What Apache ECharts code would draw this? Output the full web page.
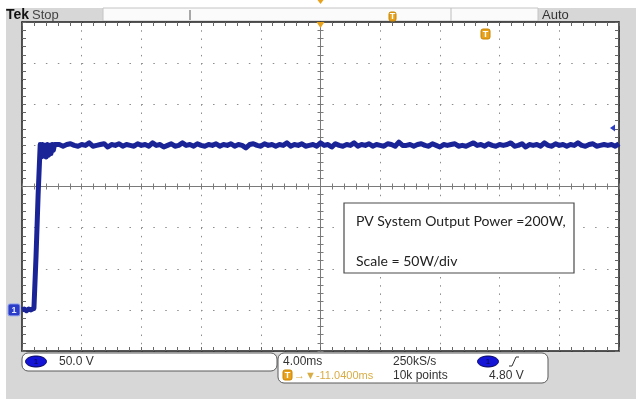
<!DOCTYPE html>
<html>
<head>
<meta charset="utf-8">
<script src="https://cdn.jsdelivr.net/npm/echarts@6/dist/echarts.min.js"></script>
<style>
  html, body { margin: 0; padding: 0; background: #fff; }
  #chart { width: 636px; height: 399px; }
</style>
</head>
<body>
<div id="chart"></div>
<script>
// Screen: 10 horizontal divisions at 4.00 ms/div, 8 vertical divisions at 50 W/div
const timeMin = 0, timeMax = 40, timePerDiv = 4;
const wattMin = -50, wattMax = 350, wattPerDiv = 50;

// Turn-on edge of the PV output power (time in ms, power in W)
const riseTimes = [0, 0.15, 0.3, 0.45, 0.6, 0.72, 0.8, 0.94, 1.08, 1.22, 1.3, 1.38, 1.46, 1.54, 1.62, 1.7, 1.78, 1.86, 1.94, 2.02, 2.1, 2.18];
const riseWatts = [0, 1, -1, 1, 0, 1, 2, 65, 140, 201, 186, 201, 187, 200, 186, 201, 188, 200, 190, 201, 194, 201];

// Steady-state power, sampled every 0.25 ms from 2.25 ms
const plateauStart = 2.25, plateauStep = 0.25;
const plateauWatts = [
  200,201,199,201,202,200,199,201,200,203,199,200,201,202,198,201,200,202,199,201,
  200,199,202,200,201,199,203,200,201,198,200,202,199,200,203,200,201,199,202,200,
  199,201,200,202,199,201,200,202,199,201,200,197,201,202,200,199,202,200,201,199,
  201,200,203,199,201,200,202,199,200,201,199,203,200,201,198,202,200,199,201,200,
  203,199,201,200,202,199,201,200,199,202,201,199,204,200,200,201,199,201,202,200,
  199,202,200,198,201,200,201,202,199,200,199,201,203,200,201,199,202,200,199,201,
  200,201,203,199,200,202,198,201,200,201,199,203,200,199,202,200,201,199,201,200,
  203,200,199,201,202,199,200,201,200,201,199,202
];

// Channel 1 ground reference and trigger level
const groundWatts = 0;
const triggerLevelWatts = 221;

const trace = riseTimes.map((t, i) => [t, riseWatts[i]])
  .concat(plateauWatts.map((w, i) => [plateauStart + i * plateauStep, w]));

const TRACE = '#1a2496';
const ORANGE = '#e9a21c';
const UI_FONT = '"Liberation Sans", Arial, sans-serif';

const chart = echarts.init(document.getElementById('chart'), null, { renderer: 'canvas' });

const plotRect = { left: 22, top: 22, width: 597, height: 329 };
const gridBase = Object.assign({ show: false, containLabel: false, outerBoundsMode: 'none' }, plotRect);

function edgeAxis(extra) {
  return Object.assign({
    type: 'value',
    axisLine: { show: true, onZero: false, lineStyle: { color: '#1e1e1e', width: 1.5 } },
    axisTick: { show: true, inside: true, length: 4, lineStyle: { color: '#666', width: 1 } },
    minorTick: { show: true, splitNumber: 5, length: 4, lineStyle: { color: '#666', width: 1 } },
    axisLabel: { show: false },
    splitLine: { show: false }
  }, extra);
}

function centerAxis(extra, inside) {
  return Object.assign({
    type: 'value',
    interval: 1,
    axisLine: { show: true, onZero: true, lineStyle: { color: '#7a7a7a', width: 1 } },
    axisTick: { show: true, inside: inside, length: 3, lineStyle: { color: '#7a7a7a', width: 1 } },
    minorTick: { show: true, splitNumber: 5, length: 3, lineStyle: { color: '#7a7a7a', width: 1 } },
    axisLabel: { show: false },
    splitLine: { show: false }
  }, extra);
}

chart.setOption({
  backgroundColor: '#ffffff',
  animation: false,
  grid: [gridBase, Object.assign({}, gridBase), Object.assign({}, gridBase)],
  xAxis: [
    edgeAxis({
      gridIndex: 0, position: 'bottom', min: timeMin, max: timeMax, interval: timePerDiv,
      splitLine: { show: true, lineStyle: { color: '#8c8c8c', width: 1, type: [1.5, 6.725] } }
    }),
    edgeAxis({ gridIndex: 0, position: 'top', min: timeMin, max: timeMax, interval: timePerDiv }),
    centerAxis({ gridIndex: 1, min: -5, max: 5 }, true),
    centerAxis({ gridIndex: 2, min: -5, max: 5 }, false)
  ],
  yAxis: [
    edgeAxis({
      gridIndex: 0, position: 'left', min: wattMin, max: wattMax, interval: wattPerDiv,
      splitLine: { show: true, lineStyle: { color: '#8c8c8c', width: 1, type: [1.5, 10.44] } }
    }),
    edgeAxis({ gridIndex: 0, position: 'right', min: wattMin, max: wattMax, interval: wattPerDiv }),
    centerAxis({ gridIndex: 1, min: -4, max: 4 }, true),
    centerAxis({ gridIndex: 2, min: -4, max: 4 }, false)
  ],
  series: [{
    name: 'CH1',
    type: 'line',
    xAxisIndex: 0,
    yAxisIndex: 0,
    data: trace,
    showSymbol: false,
    z: 5,
    lineStyle: { color: TRACE, width: 5, join: 'round', cap: 'butt' }
  }]
});

// Oscilloscope bezel, readouts and markers
const gnd = chart.convertToPixel({ xAxisIndex: 0, yAxisIndex: 0 }, [timeMin, groundWatts]);
const trig = chart.convertToPixel({ xAxisIndex: 0, yAxisIndex: 0 }, [timeMax, triggerLevelWatts]);
const centerX = plotRect.left + plotRect.width / 2;

function txt(x, y, s, opt) {
  return {
    type: 'text', x: x, y: y, z: 60,
    style: Object.assign({ text: s, fill: '#333', font: '12px ' + UI_FONT, verticalAlign: 'middle' }, opt || {})
  };
}

function badge(x, y, w, h, label, fill, stroke, color) {
  return {
    type: 'group', x: x, y: y, z: 60,
    children: [
      { type: 'rect', shape: { x: 0, y: 0, width: w, height: h, r: 2 }, style: { fill: fill, stroke: stroke, lineWidth: 1 }, z: 60 },
      { type: 'text', x: w / 2, y: h / 2 + 0.5, z: 61,
        style: { text: label, fill: color, font: 'bold 9px ' + UI_FONT, align: 'center', verticalAlign: 'middle' } }
    ]
  };
}

function chanEllipse(cx, cy) {
  return {
    type: 'group', x: cx, y: cy, z: 60,
    children: [
      { type: 'ellipse', shape: { cx: 0, cy: 0, rx: 10.5, ry: 5.5 }, style: { fill: '#1414d6', stroke: '#06065a', lineWidth: 1 }, z: 60 },
      { type: 'text', x: 0, y: 0.5, z: 61, style: { text: '1', fill: '#0a0a40', font: '8px ' + UI_FONT, align: 'center', verticalAlign: 'middle' } }
    ]
  };
}

chart.setOption({
  graphic: [
    // bezel
    { type: 'rect', z: -20, shape: { x: 6, y: 8, width: 630, height: 391 }, style: { fill: '#d7d7d7' } },
    { type: 'rect', z: -19, shape: { x: plotRect.left, y: plotRect.top, width: plotRect.width, height: plotRect.height }, style: { fill: '#ffffff' } },
    // top status bar
    { type: 'rect', z: -18, shape: { x: 103, y: 8, width: 435, height: 13 }, style: { fill: '#fbfbfb', stroke: '#c4c4c4', lineWidth: 1 } },
    { type: 'line', z: 50, shape: { x1: 190, y1: 10, x2: 190, y2: 20 }, style: { stroke: '#555', lineWidth: 1 } },
    { type: 'line', z: 50, shape: { x1: 451, y1: 8, x2: 451, y2: 21 }, style: { stroke: '#bdbdbd', lineWidth: 1 } },
    txt(6, 15, 'Tek', { fill: '#111', font: 'bold 14px ' + UI_FONT }),
    txt(32, 15, 'Stop', { fill: '#444', font: '13px ' + UI_FONT }),
    txt(542, 15, 'Auto', { fill: '#333', font: '13px ' + UI_FONT }),
    badge(389, 12, 7, 9, 'T', ORANGE, '#c88400', '#fff'),
    { type: 'polygon', z: 60, shape: { points: [[centerX - 3, 0], [centerX + 3, 0], [centerX, 4]] }, style: { fill: ORANGE } },
    { type: 'polygon', z: 60, shape: { points: [[centerX - 4, 22], [centerX + 4, 22], [centerX, 28]] }, style: { fill: ORANGE } },
    badge(481, 29, 9, 10, 'T', ORANGE, '#c88400', '#fff'),
    // channel 1 ground marker and trigger level arrow
    badge(gnd[0] - 14, gnd[1] - 6, 12, 12, '1', '#2a3cc8', '#9aa8f0', '#e8ecff'),
    { type: 'polygon', z: 60, shape: { points: [[trig[0] - 9, trig[1]], [trig[0] - 4, trig[1] - 3.5], [trig[0] - 4, trig[1] + 3.5]] }, style: { fill: '#2a3cc8' } },
    // annotation box
    { type: 'rect', z: 40, shape: { x: 344, y: 203, width: 230, height: 70 }, style: { fill: '#ffffff', stroke: '#4a4a4a', lineWidth: 1.2 } },
    txt(356, 221, 'PV System Output Power =200W,', { fill: '#222', font: '14px Lato, "Open Sans", sans-serif' }),
    txt(356, 261, 'Scale = 50W/div', { fill: '#222', font: '14px Lato, "Open Sans", sans-serif' }),
    // lower readouts: vertical
    { type: 'rect', z: 50, shape: { x: 22, y: 353, width: 255, height: 18, r: 6 }, style: { fill: '#ffffff', stroke: '#5a5a5a', lineWidth: 1 } },
    chanEllipse(36, 361.5),
    txt(59, 362, '50.0 V'),
    // lower readouts: horizontal and trigger
    { type: 'rect', z: 50, shape: { x: 278, y: 353, width: 270, height: 30, r: 6 }, style: { fill: '#ffffff', stroke: '#5a5a5a', lineWidth: 1 } },
    txt(283, 362, '4.00ms'),
    txt(393, 362, '250kS/s'),
    chanEllipse(488, 361.5),
    { type: 'polyline', z: 60, shape: { points: [[509, 366], [512, 366], [516, 357], [519, 357]] }, style: { stroke: '#333', lineWidth: 1, fill: null } },
    badge(283, 370, 9, 10, 'T', ORANGE, '#c88400', '#fff'),
    txt(294, 375.5, '\u2192\u25BC-11.0400ms', { fill: '#d9ad45', font: '11px ' + UI_FONT }),
    txt(393, 375.5, '10k points'),
    txt(489, 375.5, '4.80 V')
  ]
});
</script>
</body>
</html>
